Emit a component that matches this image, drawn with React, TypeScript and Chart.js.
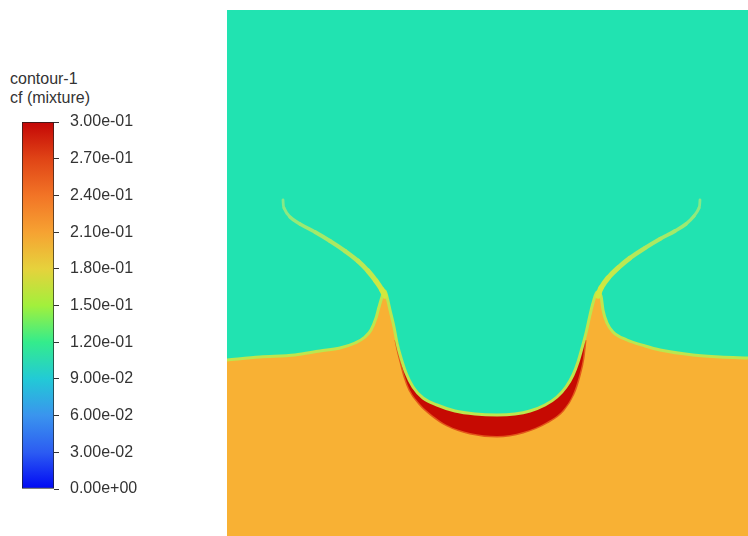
import React, { useEffect, useRef } from 'react';
import { Chart, registerables } from 'chart.js';

Chart.register(...registerables);

const FONT = "'Liberation Sans', Arial, Helvetica, sans-serif";

// ---------- colour bar ----------
const LEGEND_TITLE = ['contour-1', 'cf (mixture)'];
const BAR_RANGE = [0, 0.3];
const TICK_VALUES = [0, 0.03, 0.06, 0.09, 0.12, 0.15, 0.18, 0.21, 0.24, 0.27, 0.3];
const TICK_LABELS = [
  '0.00e+00', '3.00e-02', '6.00e-02', '9.00e-02', '1.20e-01', '1.50e-01',
  '1.80e-01', '2.10e-01', '2.40e-01', '2.70e-01', '3.00e-01',
];
const COLORMAP_VALUES = [0, 0.03, 0.06, 0.09, 0.12, 0.15, 0.18, 0.21, 0.24, 0.27, 0.3];
const COLORMAP_COLORS = [
  '#0008f4', '#2c5cf2', '#3a94ee', '#22cad6', '#34ec8c', '#a2f03c',
  '#e6d23c', '#f6a232', '#f27426', '#e04416', '#c40606',
];

// ---------- field (x, y in mm) ----------
const FIELD_X_RANGE = [-0.1, 52.0];
const FIELD_Y_RANGE = [0, 52.6];

// teal / orange interface
const INTERFACE_X = [
  -0.1, 3.2, 6.7, 9.2, 11.2, 12.7, 13.7, 14.3, 14.8, 15.1, 15.4, 15.7,
  15.9, 16.2, 16.6, 16.9, 17.3, 17.8, 18.5, 19.5, 20.9, 22.7, 24.7, 26.9,
  28.7, 30.2, 31.7, 32.9, 33.8, 34.5, 35.0, 35.4, 35.8, 36.2, 36.5, 36.9,
  37.3, 37.5, 37.9, 38.5, 39.9, 41.7, 43.2, 46.5, 49.2, 52.0,
];
const INTERFACE_Y = [
  17.6, 17.9, 18.1, 18.5, 18.8, 19.3, 19.9, 20.6, 21.8, 22.9, 23.9, 24.5,
  23.9, 22.6, 20.9, 19.3, 17.8, 16.3, 14.9, 13.8, 13.1, 12.5, 12.2, 12.1,
  12.2, 12.5, 13.1, 13.9, 14.9, 16.1, 17.4, 18.8, 20.3, 22.1, 23.3, 24.4,
  24.0, 22.6, 21.3, 20.4, 19.6, 19.0, 18.6, 18.1, 17.9, 17.8,
];

// red band (high cf) under the plume
const RED_INNER_X = [16.8, 16.9, 17.3, 17.8, 18.5, 19.5, 20.9, 22.7, 24.7, 26.9, 28.7, 30.2, 31.7, 32.9, 33.8, 34.5, 35.0, 35.4, 35.7];
const RED_INNER_Y = [19.8, 19.3, 17.8, 16.3, 14.9, 13.8, 13.1, 12.5, 12.2, 12.1, 12.2, 12.5, 13.1, 13.9, 14.9, 16.1, 17.4, 18.8, 19.8];
const RED_OUTER_X = [16.8, 17.0, 17.3, 17.7, 18.2, 19.2, 20.4, 21.9, 24.2, 26.9, 29.5, 31.9, 33.5, 34.5, 35.1, 35.5, 35.7];
const RED_OUTER_Y = [19.6, 18.6, 17.4, 15.9, 14.6, 13.2, 12.1, 11.1, 10.3, 10.0, 10.4, 11.4, 12.6, 14.2, 16.0, 17.8, 19.6];

// thin tendrils (tip first)
const LEFT_TENDRIL_X = [5.5, 5.6, 6.2, 7.2, 8.7, 10.2, 11.7, 13.0, 14.0, 14.8, 15.4, 15.7];
const LEFT_TENDRIL_Y = [33.6, 32.8, 31.9, 31.2, 30.4, 29.5, 28.5, 27.5, 26.5, 25.5, 24.6, 24.0];
const RIGHT_TENDRIL_X = [47.2, 47.1, 46.6, 45.8, 44.7, 43.2, 41.7, 40.2, 39.0, 38.0, 37.3, 37.0];
const RIGHT_TENDRIL_Y = [33.6, 32.8, 32.0, 31.2, 30.5, 29.7, 28.8, 27.8, 26.8, 25.8, 24.8, 24.0];

const TEAL = '#21e3b1';
const ORANGE = '#f8b134';
const RED = '#c60a02';
const RED_EDGE = '#e2561a';
const INTERFACE_COLOR = '#bde64e';
const TENDRIL_BASE = '#d2e83c';
const TENDRIL_TIP = '#7ee98f';

const pts = (xs: number[], ys: number[]) => xs.map((x, i) => ({ x, y: ys[i] }));

function mix(a: string, b: string, t: number) {
  const pa = [1, 3, 5].map((i) => parseInt(a.slice(i, i + 2), 16));
  const pb = [1, 3, 5].map((i) => parseInt(b.slice(i, i + 2), 16));
  const c = pa.map((v, i) => Math.round(v + (pb[i] - v) * t));
  return `rgb(${c[0]},${c[1]},${c[2]})`;
}

function tendrilDataset(xs: number[], ys: number[]) {
  const n = xs.length - 1;
  return {
    data: pts(xs, ys),
    borderColor: TENDRIL_BASE,
    borderWidth: 4,
    borderCapStyle: 'round' as const,
    borderJoinStyle: 'round' as const,
    pointRadius: 0,
    fill: false,
    tension: 0.4,
    order: 0,
    segment: {
      borderColor: (c: any) => mix(TENDRIL_TIP, TENDRIL_BASE, c.p1DataIndex / n),
      borderWidth: (c: any) => 2.5 + 3 * (c.p1DataIndex / n),
    },
  };
}

const smooth = { cubicInterpolationMode: 'monotone' as const, pointRadius: 0 };

function ColorBar() {
  const ref = useRef<HTMLCanvasElement>(null);
  useEffect(() => {
    const chart = new Chart(ref.current!, {
      type: 'bar',
      data: {
        labels: ['cf'],
        datasets: [
          {
            data: [BAR_RANGE as any],
            backgroundColor: (c: any) => {
              const ch = c.chart;
              const ys = ch.scales?.y;
              if (!ys || !ch.chartArea) return COLORMAP_COLORS[0];
              const y0 = ys.getPixelForValue(BAR_RANGE[0]);
              const y1 = ys.getPixelForValue(BAR_RANGE[1]);
              const g = ch.ctx.createLinearGradient(0, y0, 0, y1);
              COLORMAP_VALUES.forEach((v, i) =>
                g.addColorStop((v - BAR_RANGE[0]) / (BAR_RANGE[1] - BAR_RANGE[0]), COLORMAP_COLORS[i]),
              );
              return g;
            },
            borderColor: '#1e1e1e',
            borderWidth: 1,
            borderSkipped: false,
            barPercentage: 1,
            categoryPercentage: 1,
          },
        ],
      },
      options: {
        animation: false,
        responsive: false,
        maintainAspectRatio: false,
        events: [],
        layout: { padding: { left: 22, right: 6, top: 122, bottom: 47 } },
        plugins: { legend: { display: false }, tooltip: { enabled: false }, title: { display: false } },
        scales: {
          x: { display: false },
          y: {
            position: 'right',
            min: BAR_RANGE[0],
            max: BAR_RANGE[1],
            afterBuildTicks: (scale: any) => {
              scale.ticks = TICK_VALUES.map((v) => ({ value: v }));
            },
            afterFit: (scale: any) => {
              scale.width = 160;
            },
            border: { display: false },
            grid: {
              display: true,
              drawOnChartArea: false,
              drawTicks: true,
              tickLength: 5,
              color: '#333333',
              lineWidth: 1,
            },
            ticks: {
              autoSkip: false,
              padding: 11,
              color: '#333333',
              font: { family: FONT, size: 16 },
              callback: (_v: any, i: number) => TICK_LABELS[i],
            },
          },
        },
      },
    });
    return () => chart.destroy();
  }, []);
  return (
    <canvas
      ref={ref}
      width={220}
      height={536}
      style={{ position: 'absolute', left: 0, top: 0, width: 220, height: 536 }}
    />
  );
}

function Field() {
  const ref = useRef<HTMLCanvasElement>(null);
  useEffect(() => {
    const iface = pts(INTERFACE_X, INTERFACE_Y);
    const chart = new Chart(ref.current!, {
      type: 'line',
      data: {
        datasets: [
          tendrilDataset(LEFT_TENDRIL_X, LEFT_TENDRIL_Y),
          tendrilDataset(RIGHT_TENDRIL_X, RIGHT_TENDRIL_Y),
          {
            ...smooth,
            data: iface,
            borderColor: INTERFACE_COLOR,
            borderWidth: 3,
            fill: false,
            order: 1,
          },
          {
            ...smooth,
            data: pts(RED_INNER_X, RED_INNER_Y),
            borderWidth: 0,
            borderColor: 'rgba(0,0,0,0)',
            backgroundColor: RED,
            fill: 4,
            order: 2,
          },
          {
            ...smooth,
            data: pts(RED_OUTER_X, RED_OUTER_Y),
            borderWidth: 3,
            borderColor: RED_EDGE,
            fill: false,
            order: 3,
          },
          {
            ...smooth,
            data: iface,
            borderWidth: 0,
            borderColor: 'rgba(0,0,0,0)',
            backgroundColor: ORANGE,
            fill: 'start',
            order: 4,
          },
        ] as any,
      },
      options: {
        animation: false,
        responsive: false,
        maintainAspectRatio: false,
        events: [],
        layout: { padding: 0 },
        plugins: { legend: { display: false }, tooltip: { enabled: false } },
        scales: {
          x: { type: 'linear', display: false, min: FIELD_X_RANGE[0], max: FIELD_X_RANGE[1] },
          y: { type: 'linear', display: false, min: FIELD_Y_RANGE[0], max: FIELD_Y_RANGE[1] },
        },
      },
    });
    return () => chart.destroy();
  }, []);
  return (
    <canvas
      ref={ref}
      width={521}
      height={526}
      style={{ position: 'absolute', left: 227, top: 10, width: 521, height: 526, background: TEAL }}
    />
  );
}

export default function App() {
  return (
    <div style={{ position: 'fixed', left: 0, top: 0, width: 748, height: 536, background: '#ffffff', overflow: 'hidden' }}>
      <div
        style={{
          position: 'absolute',
          left: 10,
          top: 69,
          fontFamily: FONT,
          fontSize: 16,
          lineHeight: '19px',
          color: '#333333',
          whiteSpace: 'pre',
        }}
      >
        {LEGEND_TITLE.map((t) => (
          <div key={t}>{t}</div>
        ))}
      </div>
      <ColorBar />
      <Field />
    </div>
  );
}
